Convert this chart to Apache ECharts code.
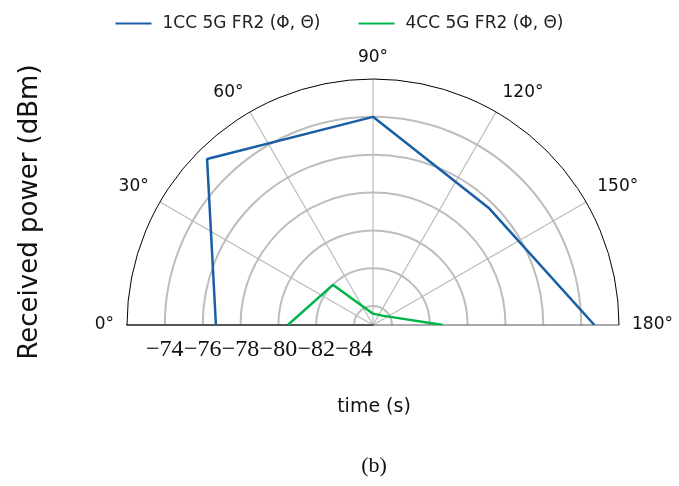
<!DOCTYPE html>
<html>
<head>
<meta charset="utf-8">
<script src="https://cdn.jsdelivr.net/npm/echarts@6/dist/echarts.min.js"></script>
<style>
  html, body { margin: 0; padding: 0; background: #fff; }
  #chart { width: 679px; height: 486px; }
</style>
</head>
<body>
<div id="chart"></div>
<script>
// angle positions (deg) and received power (dBm)
var angles = [0, 45, 90, 135, 180]
var power1cc = [-76.7, -72.6, -74.0, -76.3, -73.3]
var power4cc = [-80.5, -82.0, -84.4, -84.3, -81.3]
var radiusTicks = [-84, -82, -80, -78, -76, -74]
var seriesNames = ['1CC 5G FR2 (Φ, Θ)', '4CC 5G FR2 (Φ, Θ)']

function pairs(vals) {
  return vals.map(function (v, i) { return [v, angles[i]] })
}

var chart = echarts.init(document.getElementById('chart'))
var option = {
  backgroundColor: '#fff',
  animation: false,
  legend: {
    top: 10,
    left: 'center',
    icon: 'rect',
    itemWidth: 36,
    itemHeight: 2,
    itemGap: 38,
    textStyle: { fontFamily: 'DejaVu Sans', fontSize: 17, color: '#222', padding: [0, 0, 0, 6] },
    data: seriesNames
  },
  polar: {
    center: [373, 325],
    radius: 246
  },
  angleAxis: {
    type: 'value',
    min: 0,
    max: 180,
    interval: 30,
    startAngle: 180,
    endAngle: 0,
    clockwise: true,
    axisLine: { lineStyle: { color: '#000', width: 1 } },
    axisTick: { show: false },
    axisLabel: {
      margin: 13,
      formatter: '{value}°',
      fontFamily: 'DejaVu Sans',
      fontSize: 17,
      color: '#111'
    },
    splitLine: {
      lineStyle: { color: ['#555', '#bbb', '#bbb', '#bbb', '#bbb', '#bbb', '#555'], width: 1.2 }
    }
  },
  radiusAxis: {
    type: 'value',
    min: -85,
    max: -72,
    axisLine: { lineStyle: { color: '#555', width: 2 } },
    axisTick: { show: false, customValues: radiusTicks },
    axisLabel: {
      customValues: radiusTicks,
      margin: 13,
      fontFamily: 'Liberation Serif',
      fontSize: 24,
      color: '#111',
      formatter: function (v) { return '\u2212' + Math.abs(v) }
    },
    splitLine: {
      show: true,
      lineStyle: { color: '#bdbdbd', width: 2 }
    }
  },
  series: [
    {
      name: seriesNames[0],
      type: 'line',
      coordinateSystem: 'polar',
      symbol: 'none',
      lineStyle: { color: '#1a5fa6', width: 2.5 },
      itemStyle: { color: '#1a5fa6' },
      data: pairs(power1cc)
    },
    {
      name: seriesNames[1],
      type: 'line',
      coordinateSystem: 'polar',
      symbol: 'none',
      lineStyle: { color: '#00b548', width: 2.5 },
      itemStyle: { color: '#00b548' },
      data: pairs(power4cc)
    }
  ],
  graphic: [
    {
      type: 'text',
      x: 30,
      y: 212,
      rotation: Math.PI / 2,
      style: {
        text: 'Received power (dBm)',
        font: '26px "DejaVu Sans"',
        fill: '#111',
        align: 'center',
        verticalAlign: 'middle'
      }
    },
    {
      type: 'text',
      x: 374,
      y: 407,
      style: {
        text: 'time (s)',
        font: '19px "DejaVu Sans"',
        fill: '#111',
        align: 'center',
        verticalAlign: 'middle'
      }
    },
    {
      type: 'text',
      x: 374,
      y: 466,
      style: {
        text: '(b)',
        font: '22px "Liberation Serif"',
        fill: '#111',
        align: 'center',
        verticalAlign: 'middle'
      }
    }
  ]
}
chart.setOption(option)
</script>
</body>
</html>
